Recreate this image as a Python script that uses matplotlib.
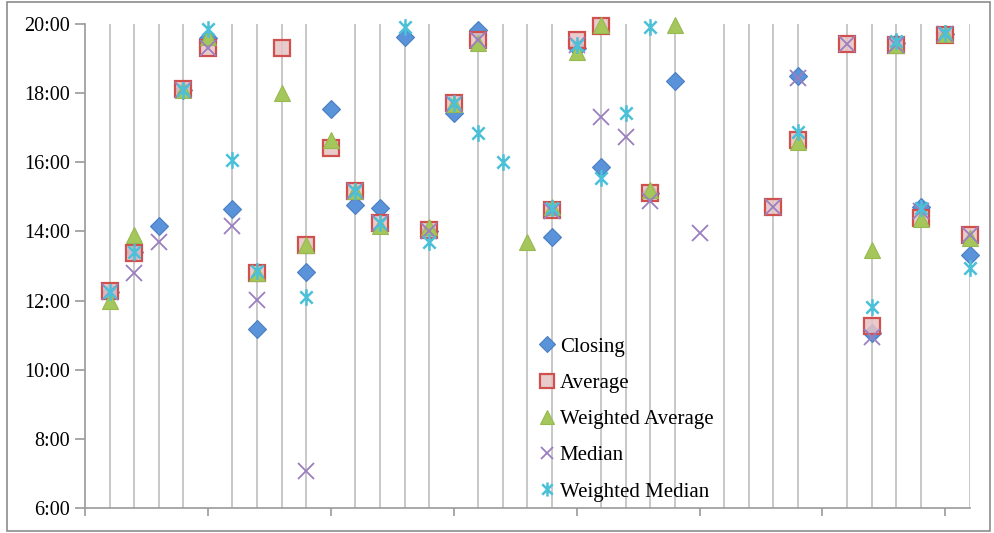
import numpy as np
import matplotlib
matplotlib.use("Agg")
import matplotlib.pyplot as plt
from matplotlib.path import Path
from matplotlib.patches import Rectangle
from matplotlib.ticker import FixedLocator, FuncFormatter

# one entry per day, "" where a series has no value
days = list(range(1, 37))

closing = ["12:15", "13:24", "14:10", "18:06", "19:36", "14:39", "11:11", "", "12:49", "17:32",
           "14:46", "14:40", "19:38", "14:00", "17:26", "19:50", "", "", "13:51", "19:18",
           "15:52", "", "15:07", "18:21", "", "", "", "", "18:29", "",
           "", "11:04", "19:27", "14:43", "19:42", "13:19"]
average = ["12:16", "13:22", "", "18:07", "19:18", "", "12:48", "19:19", "13:37", "16:24",
           "15:10", "14:14", "", "14:02", "17:43", "19:32", "", "", "14:37", "19:32",
           "19:56", "", "15:07", "", "", "", "", "14:43", "16:38", "",
           "19:26", "11:16", "19:23", "14:23", "19:41", "13:54"]
weighted_avg = ["12:00", "13:54", "", "18:06", "19:38", "", "12:48", "18:00", "13:37", "16:38",
                "15:10", "14:09", "", "14:08", "17:42", "19:27", "", "13:42", "14:43", "19:12",
                "19:58", "", "15:12", "19:58", "", "", "", "", "16:36", "",
                "", "13:28", "19:24", "14:21", "19:42", "13:48"]
median = ["12:15", "12:47", "13:42", "18:06", "19:18", "14:10", "12:01", "", "7:05", "",
          "15:10", "14:15", "", "14:00", "17:42", "19:32", "", "", "14:36", "19:24",
          "17:19", "16:44", "14:52", "", "13:57", "", "", "14:43", "18:27", "",
          "19:26", "10:57", "19:24", "14:36", "19:42", "13:54"]
weighted_med = ["12:15", "13:25", "", "18:06", "19:51", "16:04", "12:51", "", "12:07", "",
                "15:10", "14:15", "19:54", "13:42", "17:43", "16:50", "16:01", "", "14:41", "19:23",
                "15:32", "17:25", "19:55", "", "", "", "", "", "16:53", "",
                "", "11:49", "19:30", "14:41", "19:45", "12:56"]


def to_hours(values):
    out = []
    for v in values:
        if v == "":
            out.append(np.nan)
        else:
            h, m = v.split(":")
            out.append(int(h) + int(m) / 60)
    return np.array(out)


# asterisk: an x with a vertical stroke through it
star = Path([(-1, -1), (1, 1), (-1, 1), (1, -1), (0, -1.35), (0, 1.35)],
            [Path.MOVETO, Path.LINETO, Path.MOVETO, Path.LINETO, Path.MOVETO, Path.LINETO])

plt.rcParams['font.family'] = ['Liberation Serif', 'DejaVu Serif']

fig = plt.figure(figsize=(9.95, 5.33), dpi=100)
ax = fig.add_axes([85 / 995, 25 / 533, 885 / 995, 484 / 533])

# outer chart border
fig.patches.append(Rectangle((7 / 995, 2 / 533), 983 / 995, 529 / 533,
                             transform=fig.transFigure, fill=False,
                             edgecolor='#8c8c8c', linewidth=1.2))

series = [
    ("Closing", closing, dict(marker='D', markersize=9, markerfacecolor='#5a93d9',
                              markeredgecolor='#4a7fc0', markeredgewidth=0.8)),
    ("Average", average, dict(marker='s', markersize=12, markerfacecolor=(0.90, 0.76, 0.77, 0.85),
                              markeredgecolor='#d0504d', markeredgewidth=1.6)),
    ("Weighted Average", weighted_avg, dict(marker='^', markersize=12, markerfacecolor='#a4c65a',
                                            markeredgecolor='#97b950', markeredgewidth=0.8)),
    ("Median", median, dict(marker='x', markersize=11, markeredgecolor='#9a7fc0',
                            markeredgewidth=1.3)),
    ("Weighted Median", weighted_med, dict(marker=star, markersize=12, markeredgecolor='#4bc0d8',
                                           markerfacecolor='none', markeredgewidth=1.8)),
]

for label, vals, style in series:
    ax.plot(days, to_hours(vals), linestyle='none', label=label, clip_on=False,
            zorder=3, **style)

ax.set_xlim(0, 36)
ax.set_ylim(6, 20)

# a light vertical line at every day, ticks only every fifth
ax.xaxis.set_major_locator(FixedLocator(range(0, 36, 5)))
ax.xaxis.set_minor_locator(FixedLocator(days))
ax.set_xticklabels([])
ax.grid(True, axis='x', which='minor', color='#c4c4c4', linewidth=1.3)
ax.tick_params(axis='x', which='major', direction='out', length=6, width=1.2, color='#9a9a9a')
ax.tick_params(axis='x', which='minor', length=0)

ax.yaxis.set_major_locator(FixedLocator(range(6, 21, 2)))
ax.yaxis.set_major_formatter(FuncFormatter(lambda v, p: f"{int(v)}:00"))
ax.tick_params(axis='y', direction='out', length=7, width=1.2, color='#9a9a9a',
               labelsize=14.5, pad=4)

for side in ('top', 'right'):
    ax.spines[side].set_visible(False)
for side in ('left', 'bottom'):
    ax.spines[side].set_color('#9a9a9a')
    ax.spines[side].set_linewidth(1.2)

ax.legend(loc='upper left', bbox_to_anchor=(540 / 995, 1 - 337 / 533),
          bbox_transform=fig.transFigure, frameon=False, fontsize=15,
          markerscale=0.85, handlelength=0.7, handletextpad=0.25,
          labelspacing=0.8, borderpad=0, borderaxespad=0)

fig.savefig("out.png", dpi=100)
